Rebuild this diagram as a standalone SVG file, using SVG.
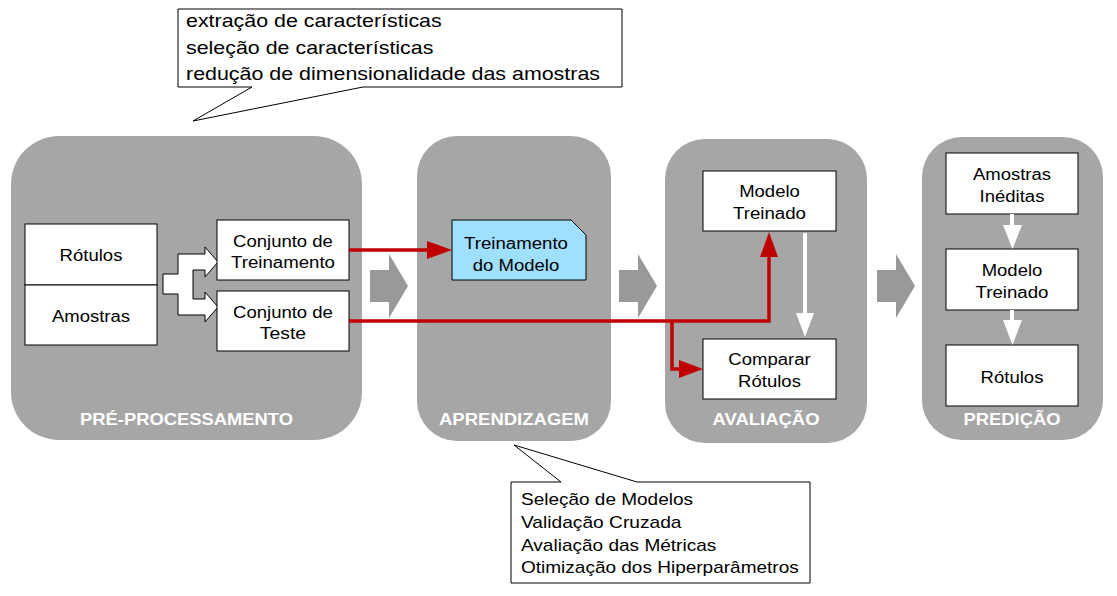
<svg xmlns="http://www.w3.org/2000/svg" width="1117" height="596" viewBox="0 0 1117 596">
<style>
.panel{fill:#a6a6a6}
.blk{fill:#999999}
.box{fill:#ffffff;stroke:#000000;stroke-width:1}
.t{font-family:"Liberation Sans",Arial,sans-serif;font-size:16px;fill:#000000;text-anchor:middle}
.lbl{font-family:"Liberation Sans",Arial,sans-serif;font-size:16px;font-weight:bold;fill:#ffffff;text-anchor:middle}
.ct{font-family:"Liberation Sans",Arial,sans-serif;font-size:18.5px;fill:#000000}
.cb{font-family:"Liberation Sans",Arial,sans-serif;font-size:16.4px;fill:#000000}
.red{fill:none;stroke:#c00000;stroke-width:3.5}
.redh{fill:#c00000}
.wl{fill:none;stroke:#ffffff;stroke-width:4}
.wh{fill:#ffffff}
</style>
<rect width="1117" height="596" fill="#ffffff"/>

<g id="panel-preprocessamento">
<rect class="panel" x="11" y="136" width="351" height="304" rx="48" ry="48"/>
<text class="lbl" x="186.5" y="425" textLength="213" lengthAdjust="spacingAndGlyphs">PRÉ-PROCESSAMENTO</text>
</g>
<g id="panel-aprendizagem">
<rect class="panel" x="417" y="136" width="194" height="305" rx="40" ry="40"/>
<text class="lbl" x="514" y="425" textLength="150" lengthAdjust="spacingAndGlyphs">APRENDIZAGEM</text>
</g>
<g id="panel-avaliacao">
<rect class="panel" x="665" y="139" width="202" height="304" rx="40" ry="40"/>
<text class="lbl" x="766" y="425" textLength="107" lengthAdjust="spacingAndGlyphs">AVALIAÇÃO</text>
</g>
<g id="panel-predicao">
<rect class="panel" x="922" y="137" width="181" height="303" rx="40" ry="40"/>
<text class="lbl" x="1012" y="425" textLength="97" lengthAdjust="spacingAndGlyphs">PREDIÇÃO</text>
</g>

<g id="stage-arrows">
<polygon class="blk" points="370,270 389,270 389,254 408,286 389,318 389,302 370,302"/>
<polygon class="blk" points="619,270 638,270 638,254 657,286 638,318 638,302 619,302"/>
<polygon class="blk" points="877,270 896,270 896,254 915,286 896,318 896,302 877,302"/>
</g>

<g id="node-rotulos">
<rect class="box" x="25" y="224" width="132" height="61"/>
<text class="t" x="91" y="261" textLength="62.8" lengthAdjust="spacingAndGlyphs">Rótulos</text>
</g>
<g id="node-amostras">
<rect class="box" x="25" y="285" width="132" height="60"/>
<text class="t" x="91" y="322" textLength="78.2" lengthAdjust="spacingAndGlyphs">Amostras</text>
</g>
<g id="node-split">
<path fill="#ffffff" stroke="#000000" stroke-width="1" d="M163,274 L178,274 L178,254 L205,254 L205,247 L218,262 L205,277 L205,270 L193,270 L193,299 L205,299 L205,292 L218,307 L205,322 L205,315 L178,315 L178,294 L163,294 Z"/>
</g>
<g id="node-treino">
<rect class="box" x="217" y="220" width="132" height="60"/>
<text class="t" x="283" y="247" textLength="99.8" lengthAdjust="spacingAndGlyphs">Conjunto de</text>
<text class="t" x="283" y="268" textLength="103.9" lengthAdjust="spacingAndGlyphs">Treinamento</text>
</g>
<g id="node-teste">
<rect class="box" x="217" y="291" width="132" height="60"/>
<text class="t" x="283" y="318" textLength="99.8" lengthAdjust="spacingAndGlyphs">Conjunto de</text>
<text class="t" x="283" y="339" textLength="46.3" lengthAdjust="spacingAndGlyphs">Teste</text>
</g>
<g id="node-treinamento-modelo">
<path fill="#9fdfff" stroke="#000000" stroke-width="1" d="M452,220 L571,220 L586,235 L586,280 L452,280 Z"/>
<text class="t" x="516" y="249" textLength="103.9" lengthAdjust="spacingAndGlyphs">Treinamento</text>
<text class="t" x="516" y="271" textLength="86.4" lengthAdjust="spacingAndGlyphs">do Modelo</text>
</g>
<g id="node-modelo-treinado-aval">
<rect class="box" x="703" y="171" width="133" height="60"/>
<text class="t" x="769.5" y="197" textLength="60.7" lengthAdjust="spacingAndGlyphs">Modelo</text>
<text class="t" x="769.5" y="219" textLength="73" lengthAdjust="spacingAndGlyphs">Treinado</text>
</g>
<g id="node-comparar">
<rect class="box" x="703" y="339" width="133" height="60"/>
<text class="t" x="769.5" y="365" textLength="82.3" lengthAdjust="spacingAndGlyphs">Comparar</text>
<text class="t" x="769.5" y="387" textLength="62.8" lengthAdjust="spacingAndGlyphs">Rótulos</text>
</g>
<g id="node-amostras-ineditas">
<rect class="box" x="946" y="153" width="132" height="61"/>
<text class="t" x="1012" y="180" textLength="78.2" lengthAdjust="spacingAndGlyphs">Amostras</text>
<text class="t" x="1012" y="202" textLength="64.8" lengthAdjust="spacingAndGlyphs">Inéditas</text>
</g>
<g id="node-modelo-treinado-pred">
<rect class="box" x="946" y="249" width="132" height="61"/>
<text class="t" x="1012" y="276" textLength="60.7" lengthAdjust="spacingAndGlyphs">Modelo</text>
<text class="t" x="1012" y="298" textLength="73" lengthAdjust="spacingAndGlyphs">Treinado</text>
</g>
<g id="node-rotulos-pred">
<rect class="box" x="946" y="345" width="132" height="61"/>
<text class="t" x="1012" y="383" textLength="62.8" lengthAdjust="spacingAndGlyphs">Rótulos</text>
</g>

<g id="callout-top">
<path fill="#ffffff" stroke="#000000" stroke-width="1" d="M178,9 H622 V87 H363 L193,121 L252,87 H178 Z"/>
<text class="ct" x="186" y="27" textLength="255.7" lengthAdjust="spacingAndGlyphs">extração de características</text>
<text class="ct" x="186" y="54" textLength="247.4" lengthAdjust="spacingAndGlyphs">seleção de características</text>
<text class="ct" x="186" y="80" textLength="414" lengthAdjust="spacingAndGlyphs">redução de dimensionalidade das amostras</text>
</g>
<g id="callout-bottom">
<path fill="#ffffff" stroke="#000000" stroke-width="1" d="M511,482 H561 L514,445 L637,482 H810 V583 H511 Z"/>
<text class="cb" x="521" y="505" textLength="172" lengthAdjust="spacingAndGlyphs">Seleção de Modelos</text>
<text class="cb" x="521" y="528" textLength="160.5" lengthAdjust="spacingAndGlyphs">Validação Cruzada</text>
<text class="cb" x="521" y="551" textLength="195.3" lengthAdjust="spacingAndGlyphs">Avaliação das Métricas</text>
<text class="cb" x="521" y="573" textLength="277.7" lengthAdjust="spacingAndGlyphs">Otimização dos Hiperparâmetros</text>
</g>

<g id="connectors">
<polyline class="red" points="349,250 429,250"/>
<polygon class="redh" points="427,241 452,250 427,259"/>
<polyline class="red" points="349,321 769,321 769,256"/>
<polygon class="redh" points="760,257 769,232 778,257"/>
<polyline class="red" points="672,321 672,369 681,369"/>
<polygon class="redh" points="679,360 703,369 679,378"/>
<line class="wl" x1="805" y1="233" x2="805" y2="314"/>
<polygon class="wh" points="796,313 814,313 805,337"/>
<line class="wl" x1="1012" y1="214" x2="1012" y2="226"/>
<polygon class="wh" points="1003,225 1022,225 1012.5,249"/>
<line class="wl" x1="1012" y1="310" x2="1012" y2="321"/>
<polygon class="wh" points="1003,320 1022,320 1012.5,345"/>
</g>
</svg>
